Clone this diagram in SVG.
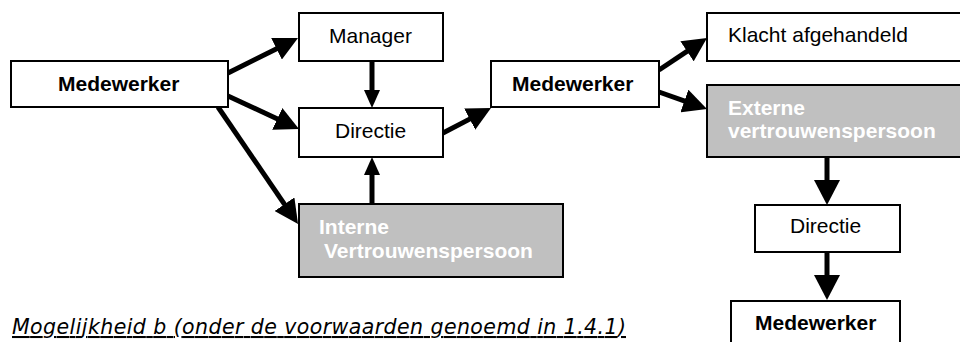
<svg xmlns="http://www.w3.org/2000/svg" width="960" height="342" viewBox="0 0 960 342">
<style>
.box{fill:#fff;stroke:#000;stroke-width:2}
.grey{fill:#c0c0c0;stroke:#000;stroke-width:2}
.t{font-family:"Liberation Sans",Arial,sans-serif;font-size:21px;fill:#000}
.b{font-weight:bold}
.w{font-weight:bold;fill:#fff}
.c{stroke:#000;stroke-width:5;fill:none}
.cap{font-family:"DejaVu Sans",Verdana,sans-serif;font-size:20.5px;font-style:italic;text-decoration:underline;fill:#000}
</style>
<defs>
<marker id="ah" markerUnits="userSpaceOnUse" viewBox="0 0 24 24" markerWidth="24" markerHeight="24" refX="8" refY="12" orient="auto"><path d="M0,0 L24,12 L0,24 z" fill="#000"/></marker>
<marker id="ahs" markerUnits="userSpaceOnUse" viewBox="0 0 18 16" markerWidth="18" markerHeight="16" refX="6" refY="8" orient="auto"><path d="M0,0 L18,8 L0,16 z" fill="#000"/></marker>
<marker id="ahl" markerUnits="userSpaceOnUse" viewBox="0 0 25 26" markerWidth="25" markerHeight="26" refX="9" refY="13" orient="auto"><path d="M0,0 L25,13 L0,26 z" fill="#000"/></marker>
</defs>
<g id="connectors">
<line class="c" x1="228" y1="73" x2="283.7" y2="45.2" marker-end="url(#ah)"/>
<line class="c" x1="228" y1="96" x2="284.5" y2="122.3" marker-end="url(#ah)"/>
<line class="c" x1="218" y1="107" x2="289" y2="210.8" marker-end="url(#ah)"/>
<line class="c" x1="372" y1="61" x2="372" y2="96" marker-end="url(#ahs)"/>
<line class="c" x1="372" y1="204" x2="372" y2="169" marker-end="url(#ahs)"/>
<line class="c" x1="443" y1="133" x2="476.8" y2="115.4" marker-end="url(#ah)"/>
<line class="c" x1="659" y1="70" x2="693.7" y2="46.9" marker-end="url(#ah)"/>
<line class="c" x1="659" y1="92" x2="691.9" y2="103.7" marker-end="url(#ah)"/>
<line class="c" x1="827" y1="157" x2="827" y2="189" marker-end="url(#ahl)"/>
<line class="c" x1="827" y1="252" x2="827" y2="284" marker-end="url(#ahl)"/>
</g>
<g id="medewerker1">
<rect class="box" x="11" y="61" width="217" height="46"/>
<text class="t b" x="58" y="91">Medewerker</text>
</g>
<g id="manager">
<rect class="box" x="299" y="13" width="144" height="48"/>
<text class="t" x="329" y="43">Manager</text>
</g>
<g id="directie1">
<rect class="box" x="299" y="108" width="144" height="49"/>
<text class="t" x="335" y="138">Directie</text>
</g>
<g id="interne">
<rect class="grey" x="299" y="204" width="264" height="73"/>
<text class="t w" x="319" y="234">Interne</text>
<text class="t w" x="324" y="258">Vertrouwenspersoon</text>
</g>
<g id="medewerker2">
<rect class="box" x="491" y="61" width="168" height="46"/>
<text class="t b" x="512" y="91">Medewerker</text>
</g>
<g id="klacht">
<rect class="box" x="707" y="13" width="270" height="48"/>
<text class="t" x="728" y="42">Klacht afgehandeld</text>
</g>
<g id="externe">
<rect class="grey" x="707" y="85" width="270" height="72"/>
<text class="t w" x="728" y="115">Externe</text>
<text class="t w" x="728" y="138">vertrouwenspersoon</text>
</g>
<g id="directie2">
<rect class="box" x="755" y="205" width="145" height="47"/>
<text class="t" x="790" y="233">Directie</text>
</g>
<g id="medewerker3">
<rect class="box" x="731" y="301" width="169" height="50"/>
<text class="t b" x="755" y="330">Medewerker</text>
</g>
<text class="cap" x="12" y="334" textLength="614" lengthAdjust="spacing">Mogelijkheid b (onder de voorwaarden genoemd in 1.4.1)</text>
</svg>
